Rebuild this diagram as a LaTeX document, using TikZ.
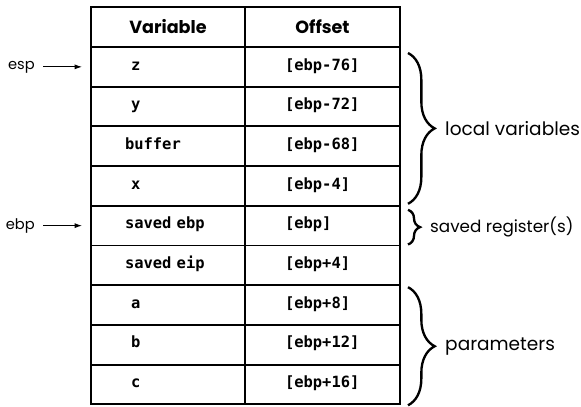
\documentclass[tikz,border=0pt]{standalone}
\usepackage{fontspec}
\newfontfamily\geofont{Poppins}
\setmonofont{DejaVu Sans Mono}[WordSpace={1,0,0}]
\usetikzlibrary{positioning, calc, arrows.meta, decorations.pathreplacing}

\tikzset{
	cell/.style={draw, line width=1.6pt, outer sep=0pt, inner ysep=0pt, minimum height=1.191cm},
	head/.style={cell, minimum width=4.62cm, minimum height=1.2cm, font=\geofont\bfseries\fontsize{15}{17}\selectfont},
	varcell/.style={cell, text width=2.58cm, inner xsep=1.02cm, align=left, text height=0.75em, text depth=0.2em, font=\ttfamily\bfseries\fontsize{13.2}{15}\selectfont},
	offcell/.style={cell, text width=2.25cm, inner xsep=1.2cm, align=left, text height=0.75em, text depth=0.2em, font=\ttfamily\bfseries\fontsize{13.2}{15}\selectfont},
	reg/.style={inner sep=0pt, font=\geofont\fontsize{12.5}{14}\selectfont},
	ptr/.style={-{Latex[length=2.2mm,width=1.5mm]}, line width=0.8pt, shorten <=0.24cm, shorten >=0.27cm},
	brc/.style={decorate, decoration={brace, amplitude=#1}, line width=2pt},
	lbl/.style={inner sep=0pt, font=\geofont\fontsize{15.8}{18}\selectfont}
}

\begin{document}
\begin{tikzpicture}
	\useasboundingbox (0,0) rectangle (17.43,12.21);

	%header
	\node[head, anchor=north west] (hvar) at (2.73,12.0) {Variable};
	\node[head, minimum width=4.65cm, right=0pt of hvar] (hoff) {Offset};

	%left column
	\node[varcell, below=0pt of hvar] (z) {\hspace*{1.8mm}z};
	\node[varcell, below=0pt of z] (y) {\hspace*{1.8mm}y};
	\node[varcell, below=0pt of y] (buf) {buffer};
	\node[varcell, below=0pt of buf] (x) {\hspace*{1.8mm}x};
	\node[varcell, below=0pt of x] (sebp) {saved ebp};
	\node[varcell, below=0pt of sebp] (seip) {saved eip};
	\node[varcell, below=0pt of seip] (a) {\hspace*{1.8mm}a};
	\node[varcell, below=0pt of a] (b) {\hspace*{1.8mm}b};
	\node[varcell, below=0pt of b] (c) {\hspace*{1.8mm}c};

	%right column
	\node[offcell, right=0pt of z] (zoff) {[ebp-76]};
	\node[offcell, right=0pt of y] (yoff) {[ebp-72]};
	\node[offcell, right=0pt of buf] (bufoff) {[ebp-68]};
	\node[offcell, right=0pt of x] (xoff) {[ebp-4]};
	\node[offcell, right=0pt of sebp] (sebpoff) {[ebp]};
	\node[offcell, right=0pt of seip] (seipoff) {[ebp+4]};
	\node[offcell, right=0pt of a] (aoff) {[ebp+8]};
	\node[offcell, right=0pt of b] (boff) {[ebp+12]};
	\node[offcell, right=0pt of c] (coff) {[ebp+16]};

	%registers
	\node[reg, left=1.68cm of z] (esp) {esp};
	\node[reg, left=1.68cm of sebp] (ebp) {ebp};
		\draw[ptr] (esp) -- (z);
		\draw[ptr] (ebp) -- (sebp);

	%braces
	\draw[brc=0.8cm] ([xshift=0.24cm,yshift=-0.18cm]zoff.north east) -- ([xshift=0.24cm,yshift=0.06cm]xoff.south east) coordinate[midway] (lvmid);
	\draw[brc=0.36cm] ([xshift=0.24cm,yshift=-0.12cm]sebpoff.north east) -- ([xshift=0.24cm,yshift=0.03cm]sebpoff.south east) coordinate[midway] (srmid);
	\draw[brc=0.8cm] ([xshift=0.24cm,yshift=-0.06cm]aoff.north east) -- ([xshift=0.24cm,yshift=-0.03cm]coff.south east) coordinate[midway] (pmid);
		\node[lbl, right=1.11cm of lvmid] (lv) {local variables};
		\node[lbl, font=\geofont\fontsize{14.3}{16}\selectfont, right=0.66cm of srmid] (sr) {saved register(s)};
		\node[lbl, right=1.11cm of pmid] (pm) {parameters};
\end{tikzpicture}
\end{document}
